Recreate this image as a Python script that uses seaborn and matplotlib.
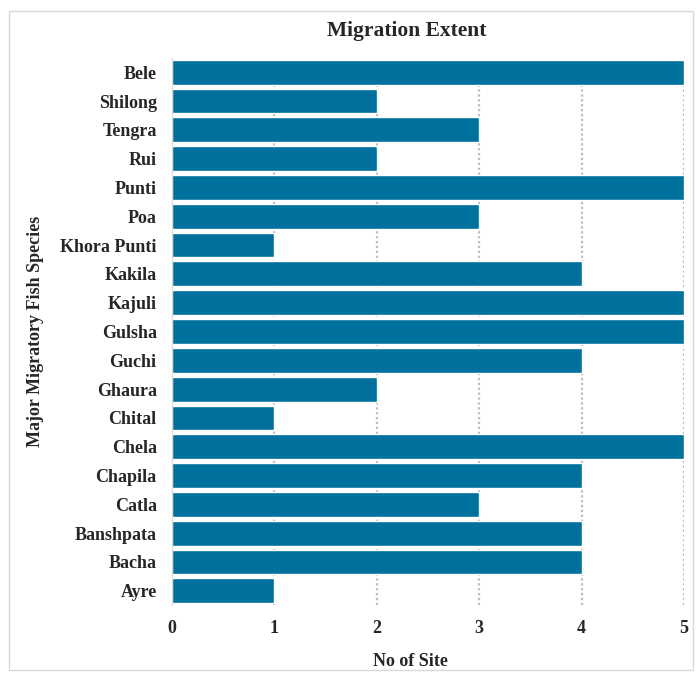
import matplotlib
matplotlib.use("Agg")
import matplotlib.pyplot as plt
import seaborn as sns
import pandas as pd
from matplotlib.patches import Rectangle

species = ["Bele", "Shilong", "Tengra", "Rui", "Punti", "Poa", "Khora Punti",
           "Kakila", "Kajuli", "Gulsha", "Guchi", "Ghaura", "Chital", "Chela",
           "Chapila", "Catla", "Banshpata", "Bacha", "Ayre"]
sites = [5, 2, 3, 2, 5, 3, 1, 4, 5, 5, 4, 2, 1, 5, 4, 3, 4, 4, 1]
xticks = [0, 1, 2, 3, 4, 5]

df = pd.DataFrame({"Species": species, "Sites": sites})

sns.set_theme(style="white")
plt.rcParams['font.family'] = ['Liberation Serif', 'DejaVu Serif']

fig = plt.figure(figsize=(6.99, 6.80), dpi=100)
ax = fig.add_axes([0.246, 0.110, 0.7325, 0.805])

sns.barplot(data=df, x="Sites", y="Species", orient="h", color="#00719c",
            saturation=1, width=0.86, ax=ax, order=species)

ax.set_xlim(0, 5)
ax.set_xticks(xticks)
ax.set_xticklabels([str(t) for t in xticks], fontsize=13, fontweight="bold")
for lbl in ax.get_yticklabels():
    lbl.set_fontsize(13)
    lbl.set_fontweight("bold")
ax.tick_params(axis="both", length=0)
ax.tick_params(axis="y", pad=11)
ax.tick_params(axis="x", pad=11)

for t in xticks[1:]:
    ax.axvline(t, color="#bdbdbd", linestyle=(0, (1, 1.2)), linewidth=1.6, zorder=0)

for s in ["top", "right", "bottom"]:
    ax.spines[s].set_visible(False)
ax.spines["left"].set_color("#d9d9d9")
ax.spines["left"].set_linewidth(0.8)

ax.set_xlabel("")
ax.set_ylabel("Major Migratory Fish Species", fontsize=13, fontweight="bold")
ax.yaxis.set_label_coords((44 - 172) / 512, 0.5)
fig.text(407/699, 1-31/680, "Migration Extent", fontsize=15.5, fontweight="bold",
         ha="center", va="center")
fig.text(410/699, 1-661/680, "No of Site", fontsize=13, fontweight="bold",
         ha="center", va="center")

fig.patches.append(Rectangle((9/699, 1-670/680), (693-9)/699, (670-11)/680,
                             transform=fig.transFigure, fill=False,
                             edgecolor="#d9d9d9", linewidth=1))

fig.savefig("out.png", dpi=100)
